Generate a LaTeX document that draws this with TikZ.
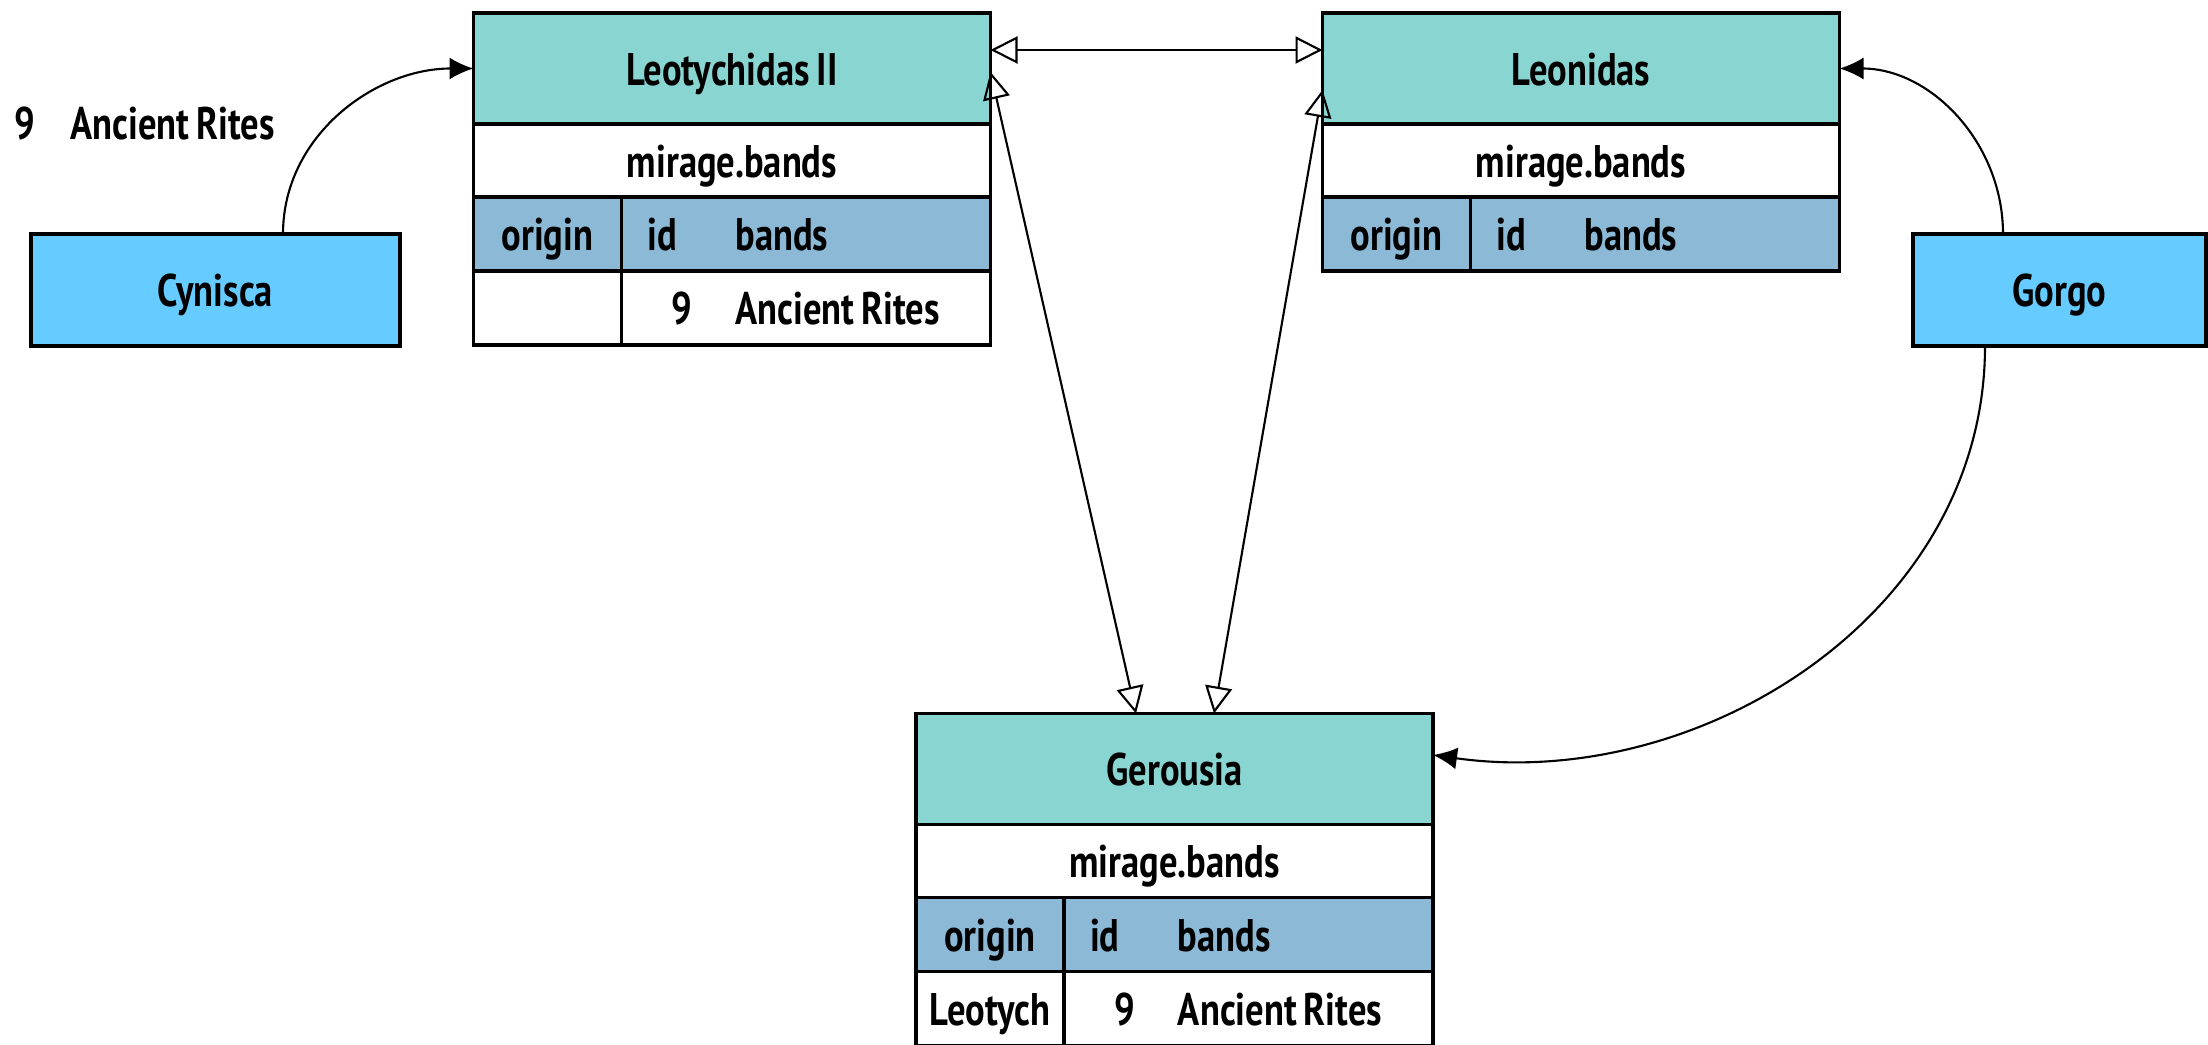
\documentclass[tikz,border=0pt]{standalone}
\usepackage{fontspec}
\setmainfont{PT Sans}[FakeStretch=0.8, WordSpace=0.75]
\usepackage{tikz}
\usetikzlibrary{positioning,arrows.meta}
\definecolor{headteal}{HTML}{88D5D2}
\definecolor{colblue}{HTML}{8BB9D6}
\definecolor{actorblue}{HTML}{66CCFF}
\newcommand\colpair[2]{\makebox[0.88cm][l]{#1}#2}

\begin{document}
\begin{tikzpicture}[
  font=\bfseries\fontsize{13}{15}\selectfont,
  cell/.style={draw, line width=0.9pt, outer sep=0pt, inner sep=0pt, text height=1.1em, text depth=0.16em},
  namecell/.style={cell, fill=headteal, minimum width=5.17cm, minimum height=1.11cm},
  dbcell/.style={cell, fill=white, minimum width=5.17cm, minimum height=0.73cm},
  origcell/.style={cell, minimum width=1.48cm, minimum height=0.74cm},
  colcell/.style={cell, minimum width=3.69cm, minimum height=0.74cm, text width=3.17cm, align=flush left},
  actor/.style={cell, fill=actorblue, minimum height=1.12cm},
  link/.style={line width=0.6pt, {Triangle[open, length=0.27cm, width=0.27cm]}-{Triangle[open, length=0.27cm, width=0.27cm]}},
  call/.style={line width=0.6pt, -{Latex[length=0.24cm, width=0.22cm]}}
]
\useasboundingbox (0,0) rectangle (22.08,-10.45);

\node[namecell] (leo-head) at (7.32,-0.685) {Leotychidas II};
\node[dbcell, below=0pt of leo-head] (leo-db) {mirage.bands};
\node[origcell, fill=colblue, below right=0pt of leo-db.south west] (leo-orig) {origin};
\node[colcell, fill=colblue, right=0pt of leo-orig] (leo-cols) {\colpair{id}{bands}};
\node[origcell, fill=white, below=0pt of leo-orig] (leo-o1) {};
\node[colcell, fill=white, below=0pt of leo-cols] (leo-v1) {\colpair{\makebox[0.45cm][r]{9}}{Ancient Rites}};

\node[namecell] (leon-head) at (15.81,-0.685) {Leonidas};
\node[dbcell, below=0pt of leon-head] (leon-db) {mirage.bands};
\node[origcell, fill=colblue, below right=0pt of leon-db.south west] (leon-orig) {origin};
\node[colcell, fill=colblue, right=0pt of leon-orig] (leon-cols) {\colpair{id}{bands}};

\node[namecell] (ger-head) at (11.745,-7.69) {Gerousia};
\node[dbcell, below=0pt of ger-head] (ger-db) {mirage.bands};
\node[origcell, fill=colblue, below right=0pt of ger-db.south west] (ger-orig) {origin};
\node[colcell, fill=colblue, right=0pt of ger-orig] (ger-cols) {\colpair{id}{bands}};
\node[origcell, fill=white, below=0pt of ger-orig] (ger-o1) {Leotych};
\node[colcell, fill=white, below=0pt of ger-cols] (ger-v1) {\colpair{\makebox[0.45cm][r]{9}}{Ancient Rites}};

\node[actor, minimum width=3.69cm] (cynisca) at (2.155,-2.90) {Cynisca};
\node[actor, minimum width=2.93cm] (gorgo) at (20.595,-2.90) {Gorgo};
\node[anchor=west, inner sep=0pt, text height=1.1em, text depth=0.16em] (cyn-msg) at (0.14,-1.23) {\makebox[0.56cm][l]{9}Ancient Rites};

\draw[call] ([xshift=0.675cm]cynisca.north) to[out=90, in=180] (leo-head.west);
\draw[call] ([xshift=-0.565cm]gorgo.north) to[out=90, in=0] (leon-head.east);
\draw[call] ([xshift=-0.745cm]gorgo.south) to[out=-90, in=-8] ([yshift=0.14cm]ger-head.east);
\draw[link] ([yshift=0.185cm]leo-head.east) -- ([yshift=0.185cm]leon-head.west);
\draw[link] ([xshift=-0.385cm]ger-head.north) -- ([yshift=-0.035cm]leo-head.east);
\draw[link] ([xshift=0.395cm]ger-head.north) -- ([yshift=-0.215cm]leon-head.west);
\end{tikzpicture}
\end{document}
